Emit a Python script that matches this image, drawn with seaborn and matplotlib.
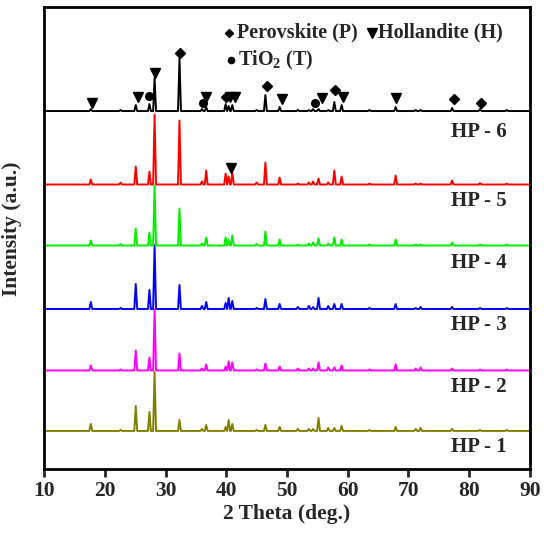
import numpy as np
import pandas as pd
import matplotlib
matplotlib.use("Agg")
import matplotlib.pyplot as plt
import seaborn as sns

peak_pos = [17.7, 22.6, 25.1, 27.35, 28.2, 32.3, 36.0, 36.7, 39.9, 40.4, 41.0, 45.0,
            46.45, 48.8, 51.8, 53.6, 54.3, 55.2, 56.8, 57.8, 59.0, 63.6, 67.9, 71.2,
            72.0, 77.2, 81.8, 86.2]

# alturas relativas de cada pico por muestra
h_hp6 = [2, 1, 6, 7, 33, 53, 2, 4, 7, 5, 6, 1, 16, 4, 1, 1, 2, 2, 1, 9, 6, 1, 4, 1, 1, 3, 2, 1]
h_hp5 = [5, 2, 18, 13, 70, 64, 3, 14, 11, 8, 12, 2, 22, 7, 1, 2, 3, 6, 2, 14, 8, 1, 9, 1, 1, 4, 1.5, 1]
h_hp4 = [5, 1.5, 17, 13, 60, 37, 2, 8, 8, 6, 10, 1.5, 14, 6, 1, 2, 3, 7, 2, 8, 6, 1, 6, 1, 1, 3, 1, 1]
h_hp3 = [7, 1, 25, 19, 64, 24, 3, 7, 6, 11, 8, 1, 10, 5, 2, 3, 2, 11, 3, 5, 5, 1, 5, 1, 2, 2, 1, 1]
h_hp2 = [5, 1, 20, 13, 61, 17, 2, 6, 4, 9, 8, 1, 7, 4, 2, 2, 2, 8, 3, 3, 5, 1, 6, 2, 3, 2, 1, 1]
h_hp1 = [7, 1, 25, 19, 59, 11, 2, 6, 4, 11, 7, 1, 6, 4, 2, 2, 2, 13, 3, 3, 5, 1, 4, 2, 3, 2, 1, 1]

muestras = ["HP - 1", "HP - 2", "HP - 3", "HP - 4", "HP - 5", "HP - 6"]
alturas = [h_hp1, h_hp2, h_hp3, h_hp4, h_hp5, h_hp6]
desplaz = [38, 98.5, 160, 223.5, 284.5, 358]
colores = ["#808000", "#FF00FF", "#0000FF", "#00EE00", "#FF0000", "#000000"]
etiqueta_y = [22, 82, 144, 206, 268, 337]

# marcadores de fases sobre el patron HP - 6
perov_x = [32.4, 40.0, 46.7, 57.9, 77.5, 82.0]
perov_y = [416, 372, 383, 379, 370, 366]
holl_x = [17.9, 25.4, 28.3, 36.6, 40.6, 41.4, 49.2, 55.8, 59.2, 67.9, 40.8]
holl_y = [366, 372, 396, 372, 372, 372, 370, 371, 372, 371, 301]
tio2_x = [27.3, 36.2, 54.6]
tio2_y = [373, 366, 366]

sns.set_theme(style="ticks")
plt.rcParams["font.family"] = ["Liberation Serif", "DejaVu Sans"]
plt.rcParams["font.weight"] = "bold"
plt.rcParams["mathtext.fontset"] = "custom"
plt.rcParams["mathtext.bf"] = "Liberation Serif:bold"
plt.rcParams["mathtext.rm"] = "Liberation Serif:bold"

fig = plt.figure(figsize=(5.44, 5.44), dpi=100)
ax = fig.add_axes([0.081, 0.138, 0.893, 0.849])

w = 0.24
for nombre, hs, off, col in zip(muestras, alturas, desplaz, colores):
    xs, ys = [10.0], [off]
    for p, h in zip(peak_pos, hs):
        xs += [p - w, p, p + w]
        ys += [off, off + h, off]
    xs.append(90.0)
    ys.append(off)
    df = pd.DataFrame({"two_theta": xs, "intensidad": ys})
    sns.lineplot(data=df, x="two_theta", y="intensidad", sort=False, estimator=None,
                 color=col, lw=1.4, ax=ax)

for nombre, yy in zip(muestras, etiqueta_y):
    ax.text(86.2, yy, nombre, ha="right", va="center", fontsize=15, fontweight="bold")

ax.plot(perov_x, perov_y, ls="none", marker="D", ms=5.5, color="black")
ax.plot(holl_x, holl_y, ls="none", marker="v", ms=7.5, color="black")
ax.plot(tio2_x, tio2_y, ls="none", marker="o", ms=5.5, color="black")

# leyenda manual de fases
ax.plot([0.381], [0.944], transform=ax.transAxes, marker="D", ms=4.5, color="black")
ax.text(0.397, 0.946, "Perovskite (P)", transform=ax.transAxes, va="center", fontsize=14.5, fontweight="bold")
ax.plot([0.675], [0.944], transform=ax.transAxes, marker="v", ms=6.5, color="black")
ax.text(0.688, 0.946, "Hollandite (H)", transform=ax.transAxes, va="center", fontsize=14.5, fontweight="bold")
ax.plot([0.385], [0.886], transform=ax.transAxes, marker="o", ms=4.5, color="black")
ax.text(0.399, 0.885, r"TiO$_\mathbf{2}$ (T)", transform=ax.transAxes, va="center", fontsize=14.5, fontweight="bold")

ax.set_xlim(10, 90)
ax.set_ylim(0, 462)
ax.set_xticks(range(10, 91, 10))
ax.set_yticks([])
ax.set_xlabel("2 Theta (deg.)", fontsize=15.5, fontweight="bold", labelpad=2)
ax.set_ylabel("Intensity (a.u.)", fontsize=15.5, fontweight="bold")
ax.yaxis.set_label_coords(-0.045, 0.52)
ax.tick_params(axis="x", direction="out", length=6, width=2, labelsize=15.5, pad=3)
for lab in ax.get_xticklabels():
    lab.set_fontweight("bold")
for s in ax.spines.values():
    s.set_linewidth(2)
    s.set_color("black")

fig.savefig("out.png", dpi=100)
